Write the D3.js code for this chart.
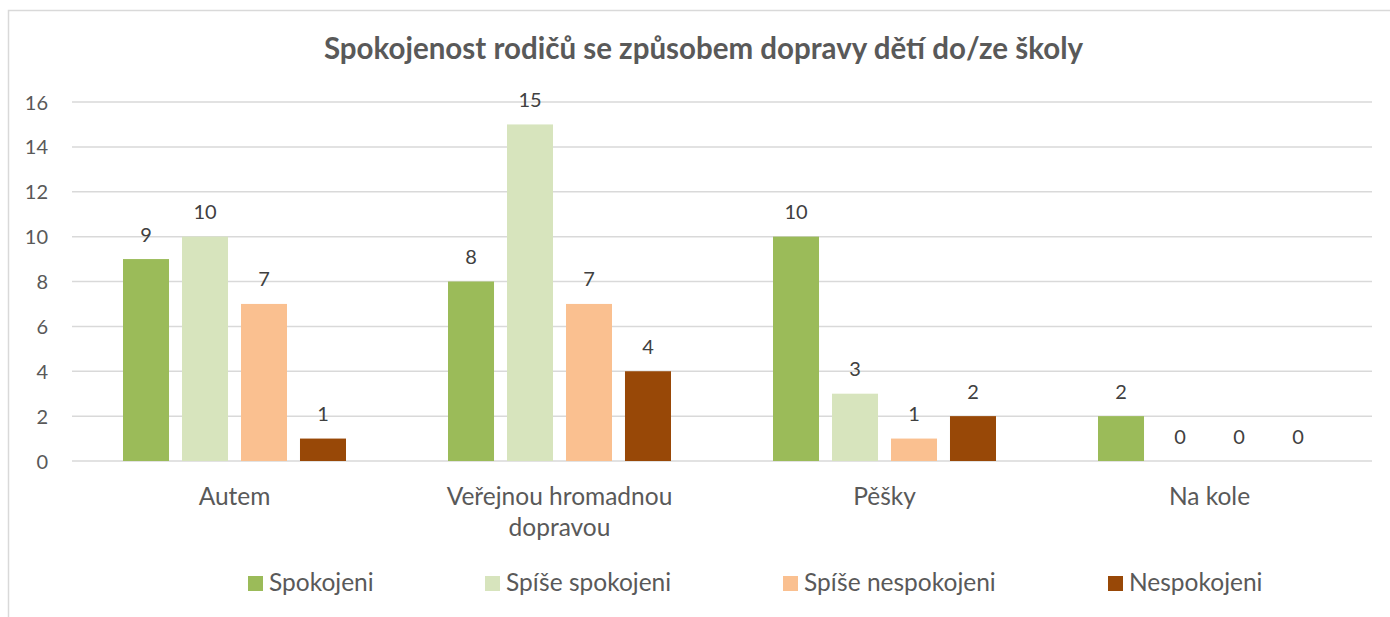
<!DOCTYPE html>
<html>
<head>
<meta charset="utf-8">
<script src="https://cdn.jsdelivr.net/npm/d3@7"></script>
<style>
  html, body { margin: 0; padding: 0; background: #fff; }
  svg { display: block; font-family: "Lato", "Open Sans", sans-serif; }
</style>
</head>
<body>
<svg id="chart" width="1390" height="617"></svg>
<script>
// ---- data ----
const title = "Spokojenost rodičů se způsobem dopravy dětí do/ze školy";
const categories = ["Autem", "Veřejnou hromadnou dopravou", "Pěšky", "Na kole"];
const seriesNames = ["Spokojeni", "Spíše spokojeni", "Spíše nespokojeni", "Nespokojeni"];
const spokojeni = [9, 8, 10, 2];
const spiseSpokojeni = [10, 15, 3, 0];
const spiseNespokojeni = [7, 7, 1, 0];
const nespokojeni = [1, 4, 2, 0];
const yTicks = [0, 2, 4, 6, 8, 10, 12, 14, 16];

// ---- styles / layout ----
const colors = ["#9bbb59", "#d7e4bd", "#fac090", "#984807"];
const legendX = [248, 485, 783, 1108];
const seriesValues = [spokojeni, spiseSpokojeni, spiseNespokojeni, nespokojeni];

const svg = d3.select("#chart");
const W = 1390, H = 617;
const plot = { left: 72, right: 1372, top: 102, bottom: 461 };

// chart border (left and top visible)
svg.append("path")
  .attr("d", `M8.5,${H} L8.5,10.5 L${W},10.5`)
  .attr("fill", "none").attr("stroke", "#d9d9d9").attr("stroke-width", 1.5);

// title
svg.append("text")
  .attr("x", 703.5).attr("y", 59)
  .attr("text-anchor", "middle")
  .attr("font-size", 29.5).attr("font-weight", "bold")
  .attr("fill", "#595959")
  .text(title);

const y = d3.scaleLinear().domain([0, 16]).range([plot.bottom, plot.top]);
const x0 = d3.scaleBand().domain(categories).range([plot.left, plot.right]).padding(0);
const x1 = d3.scaleBand().domain(seriesNames).range([51, 274]).paddingInner(0.22).paddingOuter(0);

// gridlines
svg.append("g").selectAll("line").data(yTicks).join("line")
  .attr("x1", plot.left).attr("x2", plot.right)
  .attr("y1", d => y(d)).attr("y2", d => y(d))
  .attr("stroke", "#d9d9d9").attr("stroke-width", 1.5);

// y axis labels
const yAxis = d3.axisLeft(y).tickValues(yTicks).tickSize(0).tickPadding(0);
const gy = svg.append("g").attr("transform", `translate(48,0)`).call(yAxis);
gy.select(".domain").remove();
gy.selectAll("text").attr("font-size", 20).attr("fill", "#595959")
  .attr("font-family", "Lato, 'Open Sans', sans-serif").attr("dy", "0.35em");

// bars
const rows = [];
categories.forEach((c, ci) => {
  seriesNames.forEach((s, si) => {
    rows.push({ cat: c, series: s, si, value: seriesValues[si][ci] });
  });
});

const bars = svg.append("g");
bars.selectAll("rect").data(rows).join("rect")
  .attr("x", d => x0(d.cat) + x1(d.series))
  .attr("y", d => y(d.value))
  .attr("width", x1.bandwidth())
  .attr("height", d => y(0) - y(d.value))
  .attr("fill", d => colors[d.si]);

// data labels
svg.append("g").selectAll("text").data(rows).join("text")
  .attr("x", d => x0(d.cat) + x1(d.series) + x1.bandwidth() / 2)
  .attr("y", d => y(d.value) - 17.5)
  .attr("text-anchor", "middle")
  .attr("font-size", 20).attr("fill", "#404040")
  .text(d => d.value);

// category labels with wrapping
const catG = svg.append("g");
categories.forEach(c => {
  const cx = x0(c) + x0.bandwidth() / 2;
  const t = catG.append("text")
    .attr("x", cx)
    .attr("y", 505)
    .attr("text-anchor", "middle")
    .attr("font-size", 24.5).attr("fill", "#595959");
  const words = c.split(" ");
  let line = [];
  let tspan = t.append("tspan").attr("x", cx).attr("dy", 0);
  words.forEach(w => {
    line.push(w);
    tspan.text(line.join(" "));
    if (tspan.node().getComputedTextLength() > 270 && line.length > 1) {
      line.pop();
      tspan.text(line.join(" "));
      line = [w];
      tspan = t.append("tspan").attr("x", cx).attr("dy", 31).text(w);
    }
  });
});

// legend
const lg = svg.append("g");
seriesNames.forEach((s, i) => {
  lg.append("rect").attr("x", legendX[i]).attr("y", 576).attr("width", 15).attr("height", 15)
    .attr("fill", colors[i]);
  lg.append("text").attr("x", legendX[i] + 21).attr("y", 591)
    .attr("font-size", 24.5).attr("fill", "#595959").text(s);
});
</script>
</body>
</html>
